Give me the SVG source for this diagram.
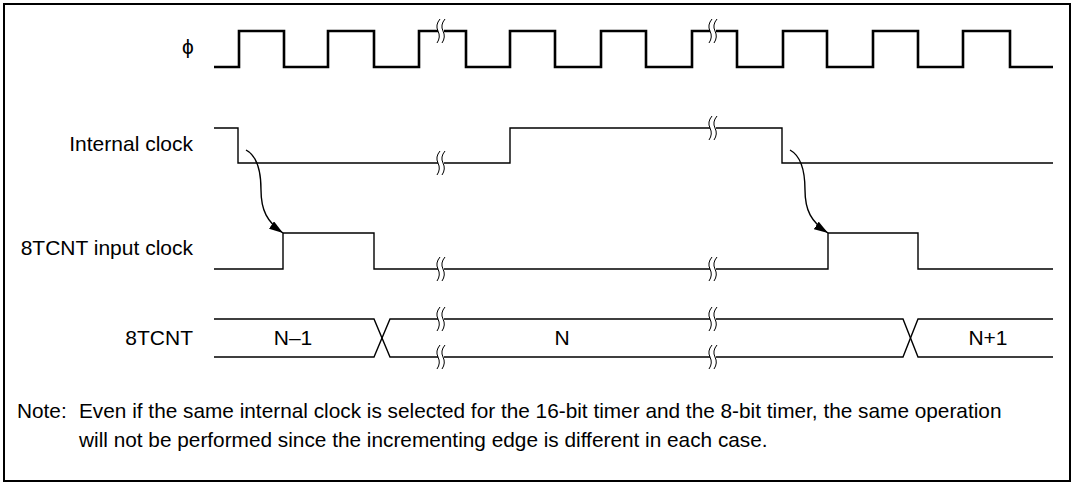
<svg xmlns="http://www.w3.org/2000/svg" width="1075" height="485" viewBox="0 0 1075 485">
<style>
.t{font-family:"Liberation Sans",Arial,sans-serif;font-size:21px;fill:#000}
.n{font-size:20.8px}
.sig{fill:none;stroke:#000;stroke-width:1.4}
.clk{fill:none;stroke:#000;stroke-width:2.6}
.brk{fill:none;stroke:#000;stroke-width:1}
.gap{fill:#fff;stroke:none}
</style>
<defs>
<marker id="ah" viewBox="0 0 14 9" refX="14" refY="4.5" markerWidth="14" markerHeight="9" markerUnits="userSpaceOnUse" orient="auto">
<path d="M0,0 L14,4.5 L0,9 Z" fill="#000"/>
</marker>
<g id="bm">
<rect class="gap" x="-3" y="-3" width="6" height="6"/>
<path class="brk" d="M-1,-12 Q-6,-6 -3,0 Q0,6 -4,12"/>
<path class="brk" d="M4,-12 Q-1,-6 2,0 Q5,6 1,12"/>
</g>
</defs>
<rect x="4" y="4" width="1066" height="477" fill="#fff" stroke="#000" stroke-width="2"/>

<g id="labels">
<text class="t" x="188" y="54" text-anchor="middle">ϕ</text>
<text class="t" x="193" y="151" text-anchor="end">Internal clock</text>
<text class="t" x="193" y="255" text-anchor="end">8TCNT input clock</text>
<text class="t" x="193" y="345" text-anchor="end">8TCNT</text>
</g>

<g id="phi">
<path class="clk" d="M214,67 H239 V31 H284 V67 H328 V31 H374 V67 H419 V31 H466 V67 H510 V31 H555 V67 H601 V31 H646 V67 H692 V31 H737 V67 H783 V31 H827 V67 H873 V31 H918 V67 H963 V31 H1010 V67 H1053"/>
<use href="#bm" x="441" y="31"/>
<use href="#bm" x="713" y="31"/>
</g>

<g id="internal-clock">
<path class="sig" d="M214,128 H238 V163 H510 V128 H782 V163 H1053"/>
<use href="#bm" x="441" y="163"/>
<use href="#bm" x="713" y="128"/>
</g>

<g id="input-clock">
<path class="sig" d="M214,269 H283 V233 H374 V269 H828 V233 H918 V269 H1053"/>
<use href="#bm" x="441" y="269"/>
<use href="#bm" x="713" y="269"/>
</g>

<g id="tcnt">
<path class="sig" d="M214,319 H374 L390,357 H903 L918,319 H1053"/>
<path class="sig" d="M214,357 H374 L390,319 H903 L918,357 H1053"/>
<use href="#bm" x="441" y="319"/>
<use href="#bm" x="441" y="357"/>
<use href="#bm" x="713" y="319"/>
<use href="#bm" x="713" y="357"/>
<text class="t" x="293" y="345" text-anchor="middle">N–1</text>
<text class="t" x="562" y="345" text-anchor="middle">N</text>
<text class="t" x="988" y="345" text-anchor="middle">N+1</text>
</g>

<g id="connectors">
<path class="sig" stroke-width="1" d="M246,150 C257,156 261,170 261,190 C261,210 267,222 283,233" marker-end="url(#ah)"/>
<path class="sig" stroke-width="1" d="M790,150 C801,156 805,170 805,190 C805,210 811,222 828,233" marker-end="url(#ah)"/>
</g>

<g id="note">
<text class="t n" x="17" y="418">Note:</text>
<text class="t n" x="79" y="418">Even if the same internal clock is selected for the 16-bit timer and the 8-bit timer, the same operation</text>
<text class="t n" x="79" y="447">will not be performed since the incrementing edge is different in each case.</text>
</g>
</svg>
